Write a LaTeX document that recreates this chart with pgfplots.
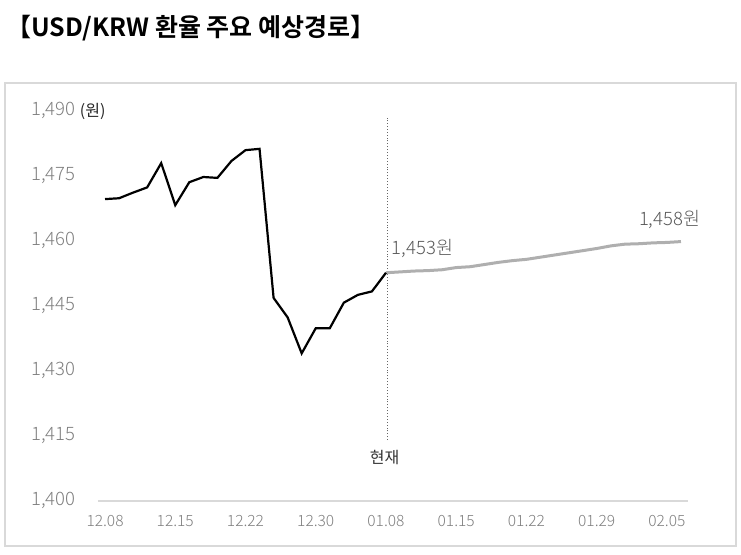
\documentclass[border=0pt]{standalone}
\usepackage{fontspec}
\usepackage{pgfplots}
\usepackage{pgfplotstable}
\pgfplotsset{compat=1.18}
\setmainfont{Noto Sans CJK KR}
\newfontfamily\krlight{Noto Sans CJK KR Light}
\newfontfamily\krbold{Noto Sans CJK KR Bold}
\definecolor{tickgray}{HTML}{7F7F7F}
\definecolor{axisgray}{HTML}{D9D9D9}
\definecolor{boxgray}{HTML}{D9D9D9}
\definecolor{fcgray}{HTML}{AFAFAF}
\definecolor{annogray}{HTML}{595959}

\pgfplotstableread{
i v
0 1469.6
1 1469.8
2 1471.1
3 1472.3
4 1477.9
5 1468.2
6 1473.5
7 1474.7
8 1474.5
9 1478.4
10 1480.9
11 1481.2
12 1446.8
13 1442.3
14 1434.0
15 1439.8
16 1439.8
17 1445.7
18 1447.5
19 1448.3
20 1452.6
}\actual

\pgfplotstableread{
i v
20 1452.6
21 1452.8
22 1453.0
23 1453.1
24 1453.3
25 1453.8
26 1454.0
27 1454.5
28 1455.0
29 1455.4
30 1455.7
31 1456.2
32 1456.7
33 1457.2
34 1457.7
35 1458.2
36 1458.8
37 1459.2
38 1459.3
39 1459.5
40 1459.6
41 1459.8
}\forecast

\begin{document}
\begin{tikzpicture}
\useasboundingbox (-98pt,-53.3pt) rectangle (643pt,500.7pt);
\draw[boxgray, line width=1.5pt] (-93pt,-45.3pt) rectangle (638pt,417.7pt);
\node[anchor=west, inner sep=0pt] at (-92pt,472.7pt) {\krbold\fontsize{25}{30}\selectfont 【USD/KRW 환율 주요 예상경로】};
\begin{axis}[
  scale only axis,
  width=590pt, height=390pt,
  xmin=-0.5, xmax=41.5,
  ymin=1400, ymax=1490,
  axis x line=bottom, axis y line=left,
  y axis line style={draw=none},
  x axis line style={-, draw=axisgray, line width=2pt},
  major tick length=0pt,
  tick style={draw=none},
  ytick={1400,1415,1430,1445,1460,1475,1490},
  yticklabels={{1,400},{1,415},{1,430},{1,445},{1,460},{1,475},{1,490}},
  yticklabel style={font=\krlight\fontsize{18.5}{20}\selectfont, text=tickgray, anchor=east, xshift=-19pt},
  xtick={0,5,...,40},
  xticklabels={12.08,12.15,12.22,12.30,01.08,01.15,01.22,01.29,02.05},
  xticklabel style={font=\krlight\fontsize{15.5}{17}\selectfont, text=tickgray, anchor=north, yshift=-11pt},
  clip=false,
]
\addplot[color=black!60, dotted, line width=0.9pt] coordinates {(20.1,1414) (20.1,1488.3)};
\addplot[color=fcgray, line width=3pt, line join=round] table[x=i, y=v] {\forecast};
\addplot[color=black, line width=2.2pt, line join=miter] table[x=i, y=v] {\actual};
\node[anchor=west, text=annogray, font=\krlight\fontsize{18.5}{20}\selectfont, inner sep=0pt] at (axis cs:20.4,1458.3) {1,453원};
\node[anchor=west, text=annogray, font=\krlight\fontsize{18.5}{20}\selectfont, inner sep=0pt] at (axis cs:38.0,1464.8) {1,458원};
\node[text=black!80, font=\fontsize{16}{18}\selectfont, inner sep=0pt] at (axis cs:19.9,1410.0) {현재};
\node[anchor=west, text=black!85, font=\fontsize{16}{18}\selectfont, inner sep=0pt] at (axis cs:-1.8,1489.8) {(원)};
\end{axis}
\end{tikzpicture}
\end{document}
